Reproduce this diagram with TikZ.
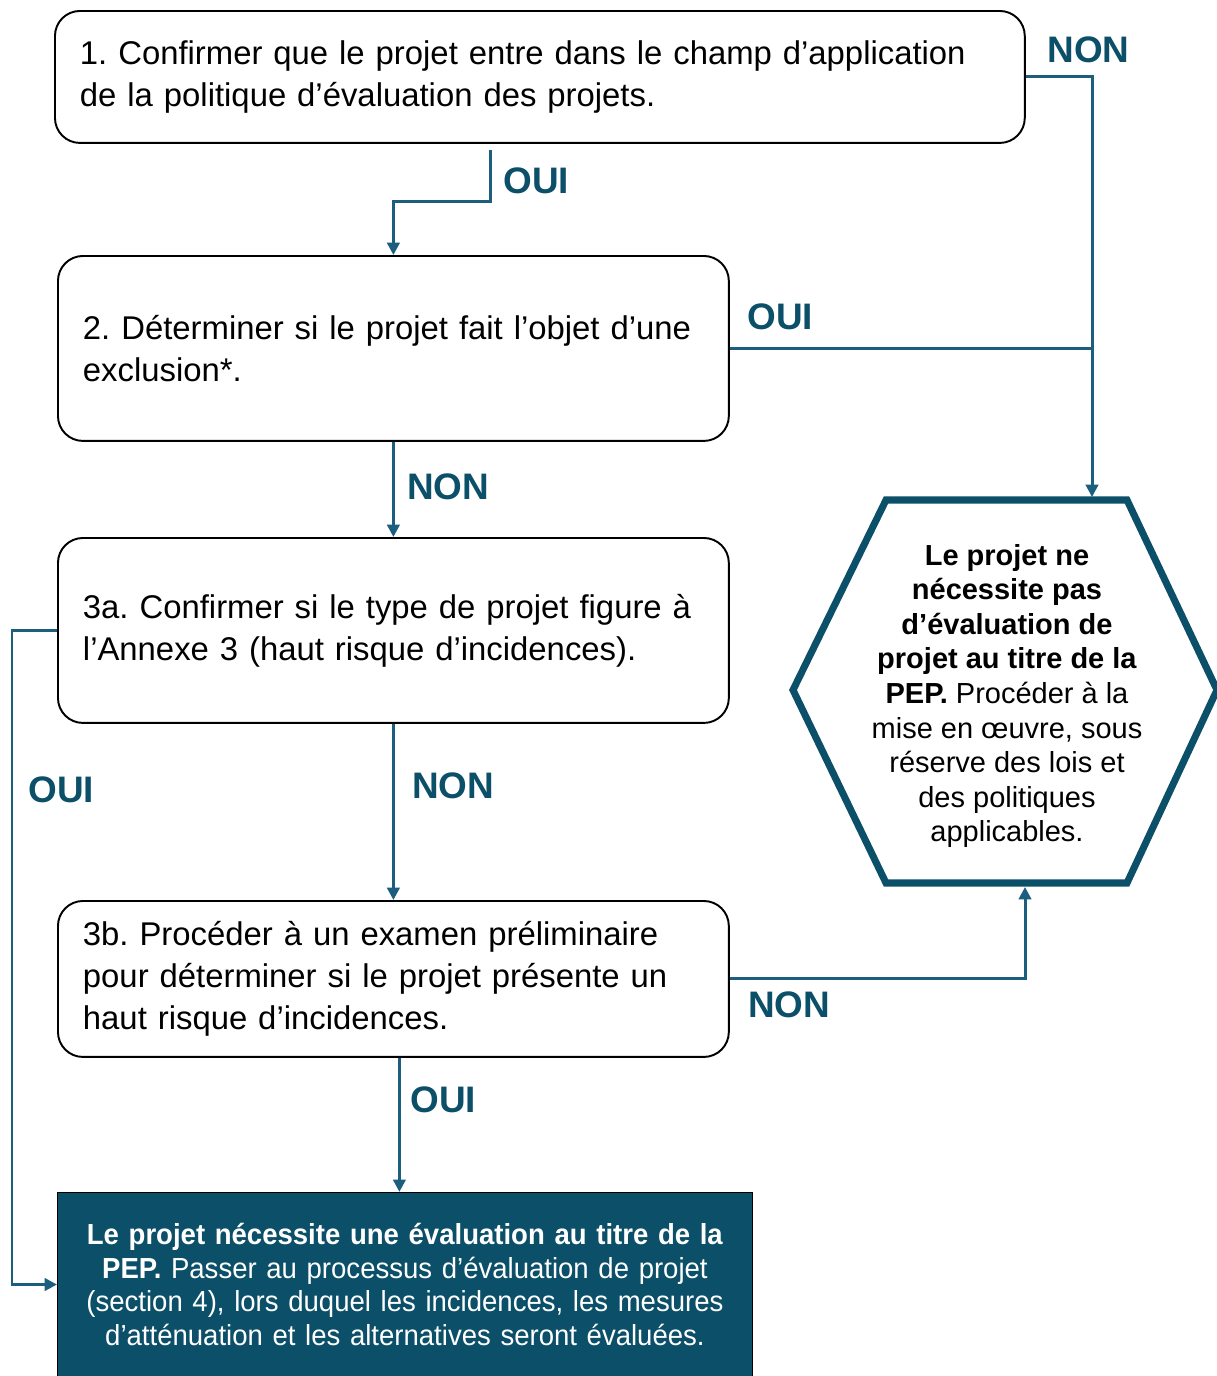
\documentclass[tikz,border=0pt]{standalone}
\usepackage{fontspec}
\setmainfont{Liberation Sans}
\newfontfamily\narrowsans[FakeStretch=0.95]{Liberation Sans}
\usetikzlibrary{arrows.meta}
\definecolor{pepbleu}{HTML}{1C5E7E}
\definecolor{pepfonce}{HTML}{0B4F68}
\frenchspacing

\begin{document}
\begin{tikzpicture}[x=0.02cm,y=-0.02cm,
  etape/.style={draw=black, line width=1.1pt, rounded corners=0.5cm, anchor=north west,
    align=left, inner xsep=0.5cm, font=\fontsize{18.7}{23.8}\selectfont},
  lien/.style={draw=pepbleu, line width=1.7pt},
  fleche/.style={lien, -{Triangle[length=7pt,width=7pt]}},
  rep/.style={anchor=west, inner sep=0pt, text=pepfonce, font=\fontsize{21}{25}\selectfont\bfseries}]

  \useasboundingbox (0,0) rectangle (1217,1376);

  % etapes
  \node[etape, minimum width=19.4cm, minimum height=2.64cm, text width=18.4cm] (conf) at (54,10)
    {1. Confirmer que le projet entre dans le champ d’application\\de la politique d’évaluation des projets.};
  \node[etape, minimum width=13.42cm, minimum height=3.7cm, text width=12.42cm] (excl) at (57,255)
    {2. Déterminer si le projet fait l’objet d’une\\exclusion*.};
  \node[etape, minimum width=13.42cm, minimum height=3.7cm, text width=12.42cm] (annexe) at (57,537)
    {3a. Confirmer si le type de projet figure à\\l’Annexe 3 (haut risque d’incidences).};
  \node[etape, minimum width=13.42cm, minimum height=3.12cm, text width=12.42cm] (examen) at (57,900)
    {3b. Procéder à un examen préliminaire\\pour déterminer si le projet présente un\\haut risque d’incidences.};

  % evaluation requise
  \node[draw=black, fill=pepfonce, line width=0.6pt, anchor=north west, minimum width=13.9cm,
    minimum height=3.68cm, text width=13.4cm, align=center, text=white,
    font=\narrowsans\fontsize{16.5}{19.3}\selectfont] (pep) at (57,1192)
    {\textbf{Le projet nécessite une évaluation au titre de la}\\\textbf{PEP.} Passer au processus d’évaluation de projet\\(section 4), lors duquel les incidences, les mesures\\d’atténuation et les alternatives seront évaluées.};

  % pas d'evaluation
  \draw[pepfonce, line width=4pt] (886,500) -- (1127,500) -- (1217,690) -- (1127,883)
    -- (886,883) -- (793,690) -- cycle;
  \node[align=center, font=\fontsize{16.5}{19.7}\selectfont] (sanspep) at (1007,696)
    {\textbf{Le projet ne}\\\textbf{nécessite pas}\\\textbf{d’évaluation de}\\\textbf{projet au titre de la}\\\textbf{PEP.} Procéder à la\\mise en œuvre, sous\\réserve des lois et\\des politiques\\applicables.};
  \coordinate (hexhaut) at (1092,497);
  \coordinate (hexbas) at (1025,887);

  % liens
  \draw[fleche] (conf.south) ++(-49,6) -- ++(0,52) -| (excl.north);
  \draw[fleche] (conf.east) -| (hexhaut);
  \draw[lien] (excl.east) -- (excl.east -| hexhaut);
  \draw[fleche] (excl.south) -- (annexe.north);
  \draw[fleche] (annexe.south) -- (examen.north);
  \draw[fleche] (annexe.west) -- ++(-45,0) |- (pep.west);
  \draw[fleche] (examen.east) -| (hexbas);
  \draw[fleche] (examen.south) ++(6,0) -- ++(0,134);

  % reponses
  \node[rep] (oui1) at (503,181) {OUI};
  \node[rep] (non1) at (1047,50) {NON};
  \node[rep] (oui2) at (747,317) {OUI};
  \node[rep] (non2) at (407,487) {NON};
  \node[rep] (non3) at (412,786) {NON};
  \node[rep] (oui3) at (28,790) {OUI};
  \node[rep] (non4) at (748,1005) {NON};
  \node[rep] (oui4) at (410,1100) {OUI};

\end{tikzpicture}
\end{document}
